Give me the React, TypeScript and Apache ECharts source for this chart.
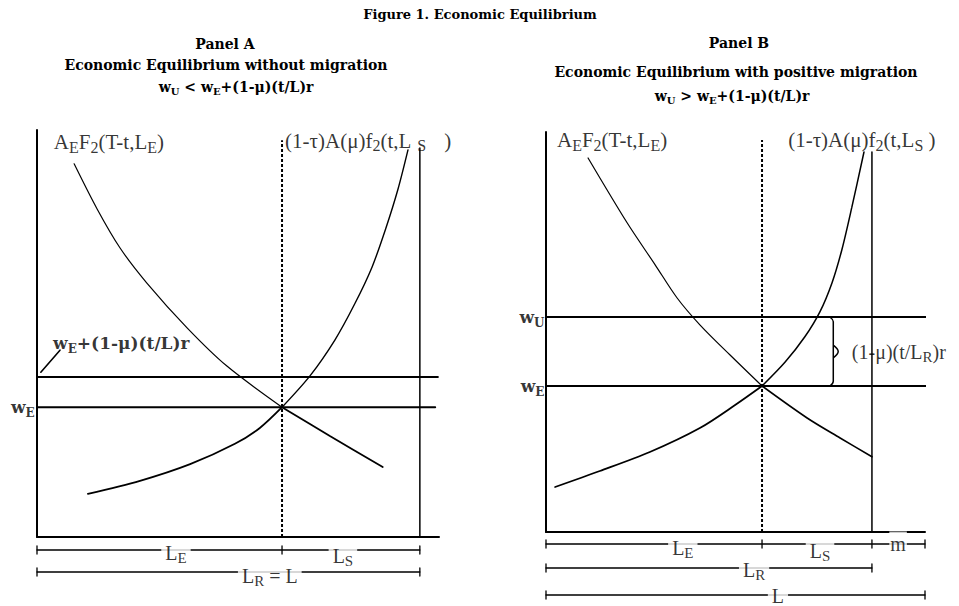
import { useEffect, useRef } from "react";
import * as echarts from "echarts";

// ---------------- data ----------------
// x: labour (L = 100), y: wage index.
// Panel A
const A_labour = [0, 64, 100]; // 0, L_E, L_R = L
const A_wages = [31.9, 39.3]; // w_E, w_E+(1-μ)(t/L)r
const A_demand: number[][] = [
  [9.7, 91.7], [15.7, 80.6], [21.7, 71.0], [28.7, 62.4], [39.2, 51.4],
  [49.6, 42.0], [64.0, 31.9], [76.5, 24.8], [90.3, 17.2],
];
const A_supply: number[][] = [
  [13.3, 10.6], [26.9, 13.8], [40.0, 17.9], [51.7, 22.9], [58.2, 26.8],
  [64.0, 31.9], [71.3, 39.6], [77.8, 48.4], [83.0, 57.3], [87.5, 66.3],
  [91.1, 75.8], [94.3, 85.5], [96.9, 95.1],
];
// Panel B
const B_labour = [0, 57, 86, 100]; // 0, L_E, L_R, L
const B_wages = [36.5, 53.75]; // w_E, w_U
const B_demand: number[][] = [
  [11.1, 93.5], [21.4, 77.3], [28.8, 66.8], [34.6, 58.5], [40.6, 51.8],
  [48.5, 44.3], [57.0, 36.5], [68.9, 28.5], [77.6, 23.5], [86.0, 18.8],
];
const B_supply: number[][] = [
  [2.4, 11.25], [14.2, 15.25], [27.4, 20], [40.6, 26], [49.9, 31.75],
  [57.0, 36.5], [63.1, 42.5], [68.3, 48.8], [72.3, 55.1], [75.5, 62.4],
  [78.1, 70.7], [80.7, 81.2], [83.9, 95.0],
];

// ---------------- styles ----------------
const SERIF = "'Liberation Serif', 'Times New Roman', serif";
const BOLD = "'DejaVu Serif', 'Liberation Serif', serif";
const INK = "#000";

const R: any = {
  n: { fontFamily: SERIF, fontSize: 20, lineHeight: 25, color: INK },
  s: { fontFamily: SERIF, fontSize: 15, lineHeight: 14, color: INK, verticalAlign: "bottom" },
  m: { fontFamily: SERIF, fontSize: 21, lineHeight: 26, color: INK },
  ms: { fontFamily: SERIF, fontSize: 16, lineHeight: 15, color: INK, verticalAlign: "bottom" },
  sp: { fontFamily: SERIF, fontSize: 16, lineHeight: 15, color: INK, verticalAlign: "bottom", padding: [0, 18, 0, 6] },
  b: { fontFamily: BOLD, fontSize: 17, fontWeight: "bold", lineHeight: 24, color: INK },
  bs: { fontFamily: BOLD, fontSize: 12, fontWeight: "bold", lineHeight: 12, color: INK, verticalAlign: "bottom" },
};
const T: any = {
  t: { fontFamily: BOLD, fontSize: 14, fontWeight: "bold", lineHeight: 18, color: INK },
  h: { fontFamily: BOLD, fontSize: 13, fontWeight: "bold", lineHeight: 18, color: INK },
  ts: { fontFamily: BOLD, fontSize: 10, fontWeight: "bold", lineHeight: 10, color: INK, verticalAlign: "bottom" },
};

function line(g: number, data: number[][], width: number, extra: any = {}, smooth: any = false) {
  return {
    type: "line", xAxisIndex: g, yAxisIndex: g, data, symbol: "none", smooth,
    clip: false, silent: true, z: 3,
    lineStyle: { color: INK, width, cap: "round", ...extra },
  };
}

function tag(x: number, y: number, text: string, position: string, extra: any = {}) {
  return { value: [x, y], label: { show: true, formatter: text, position, distance: 0, rich: R, ...extra } };
}

function labels(g: number, items: any[], z: number) {
  return {
    type: "scatter", xAxisIndex: g, yAxisIndex: g, symbolSize: 0, clip: false, silent: true, z,
    itemStyle: { color: "transparent" }, label: { show: true }, data: items,
  };
}

function bracket(g: number, y: number, from: number, to: number, ticks: number[], tickH: number) {
  const out: any[] = [line(g, [[from, y], [to, y]], 1.3)];
  ticks.forEach((t) => out.push(line(g, [[t, y - tickH], [t, y + tickH]], 1.3)));
  return out;
}

function build() {
  const [a0, aLE, aL] = A_labour;
  const [awE, awH] = A_wages;
  const [b0, bLE, bLR, bL] = B_labour;
  const [bwE, bwU] = B_wages;
  const bMid = (bwE + bwU) / 2;
  const white = { backgroundColor: "#fff", padding: [0, 4] };

  const series: any[] = [
    // ---- Panel A ----
    line(0, [[a0, awH], [104.7, awH]], 2),
    line(0, [[a0, awE], [104, awE]], 2),
    line(0, [[aLE, 0], [aLE, 97.5]], 2, { type: [3, 2], cap: "butt" }),
    line(0, [[aL, 0], [aL, 95.6]], 1.5),
    line(0, A_demand.slice(0, 7), 1.2, {}, 0.3),
    line(0, A_demand.slice(6), 1.8, {}, 0.3),
    line(0, A_supply.slice(0, 6), 1.8, {}, 0.3),
    line(0, A_supply.slice(5), 1.4, {}, 0.3),
    line(0, [[1.0, 40.5], [6.0, 45.9]], 1.6),
    ...bracket(0, -3.2, a0, aL, [a0, aLE, aL], 1.0),
    ...bracket(0, -8.6, a0, aL, [a0, aL], 1.0),
    labels(0, [
      tag(4.4, 97, "{m|A}{ms|E}{m|F}{ms|2}{m|(T-t,L}{ms|E}{m|)}", "right"),
      tag(64.8, 97.3, "{m|(1-τ)A(μ)f}{ms|2}{m|(t,L}{sp|S}{m|)}", "right"),
      tag(4.2, 47.7, "{b|w}{bs|E}{b|+(1-μ)(t/L)r}", "right"),
      tag(-0.6, awE, "{b|w}{bs|E}", "left"),
    ], 1),
    labels(0, [
      tag(36.3, -3.9, "{n|L}{s|E}", "inside", white),
      tag(79.9, -4.7, "{n|L}{s|S}", "inside", white),
      tag(60.8, -9.6, "{n|L}{s|R}{n| = L}", "inside", white),
    ], 6),

    // ---- Panel B ----
    line(1, [[b0, bwU], [104.5, bwU]], 2),
    line(1, [[b0, bwE], [103.4, bwE]], 2),
    line(1, [[bLE, 0], [bLE, 98]], 2, { type: [3, 2], cap: "butt" }),
    line(1, [[bLR, 0], [bLR, 95]], 1.5),
    line(1, B_demand.slice(0, 7), 1.2, {}, 0.3),
    line(1, B_demand.slice(6), 1.6, {}, 0.3),
    line(1, B_supply.slice(0, 6), 1.8, {}, 0.3),
    line(1, B_supply.slice(5), 1.5, {}, 0.3),
    line(1, [
      [74.9, bwU], [75.8, bwU - 1.2], [75.8, bMid - 1.6], [77.1, bMid],
      [75.8, bMid + 1.6], [75.8, bwE + 1.2], [74.9, bwE],
    ], 1.5, {}, 0.4),
    ...bracket(1, -3, b0, bL, [b0, bLE, bLR, bL], 1.0),
    ...bracket(1, -9, b0, bLR, [b0, bLR], 1.0),
    ...bracket(1, -15.75, b0, bL, [b0, bL], 1.0),
    labels(1, [
      tag(2.9, 98, "{m|A}{ms|E}{m|F}{ms|2}{m|(T-t,L}{ms|E}{m|)}", "right"),
      tag(63.9, 98, "{m|(1-τ)A(μ)f}{ms|2}{m|(t,L}{ms|S}{m| )}", "right"),
      tag(-0.4, bwU, "{b|w}{bs|U}", "left"),
      tag(-0.4, bwE, "{b|w}{bs|E}", "left"),
      tag(80.7, bMid, "{n|(1-μ)(t/L}{s|R}{n|)r}", "right"),
    ], 1),
    labels(1, [
      tag(36.1, -4, "{n|L}{s|E}", "inside", white),
      tag(72.3, -4.75, "{n|L}{s|S}", "inside", white),
      tag(92.9, -3, "{n|m}", "inside", { backgroundColor: "#fff", padding: [0, 1] }),
      tag(54.9, -9.5, "{n|L}{s|R}", "inside", white),
      tag(61.2, -16, "{n|L}", "inside", white),
    ], 6),
  ];

  const axisCommon = {
    type: "value", axisTick: { show: false }, axisLabel: { show: false },
    splitLine: { show: false },
    axisLine: { show: true, lineStyle: { color: INK, width: 2 } },
  };

  const titleText = (x: number, y: number, text: string) => ({
    type: "text", x, y, silent: true,
    style: { text, rich: T, textAlign: "center", textVerticalAlign: "middle", fill: INK },
  });

  return {
    animation: false,
    backgroundColor: "#fff",
    grid: [
      { left: 37, top: 130, width: 402, height: 407 },
      { left: 546, top: 132, width: 379, height: 400 },
    ],
    xAxis: [
      { ...axisCommon, gridIndex: 0, min: 0, max: 105 },
      { ...axisCommon, gridIndex: 1, min: 0, max: 100 },
    ],
    yAxis: [
      { ...axisCommon, gridIndex: 0, min: 0, max: 100 },
      { ...axisCommon, gridIndex: 1, min: 0, max: 100 },
    ],
    graphic: [
      titleText(480, 14, "{h|Figure 1. Economic Equilibrium}"),
      titleText(225, 44, "{t|Panel A}"),
      titleText(226, 65, "{t|Economic Equilibrium without migration}"),
      titleText(236, 87, "{t|w}{ts|U}{t| < w}{ts|E}{t|+(1-μ)(t/L)r}"),
      titleText(739, 43, "{t|Panel B}"),
      titleText(736, 72, "{t|Economic Equilibrium with positive migration}"),
      titleText(732, 96, "{t|w}{ts|U}{t| > w}{ts|E}{t|+(1-μ)(t/L)r}"),
    ],
    series,
  };
}

export default function App() {
  const ref = useRef<HTMLDivElement>(null);
  useEffect(() => {
    const chart = echarts.init(ref.current!, undefined, { renderer: "svg", width: 959, height: 606 });
    chart.setOption(build() as any);
    return () => chart.dispose();
  }, []);
  return (
    <div
      ref={ref}
      style={{ position: "fixed", left: 0, top: 0, width: 959, height: 606, background: "#fff" }}
    />
  );
}
